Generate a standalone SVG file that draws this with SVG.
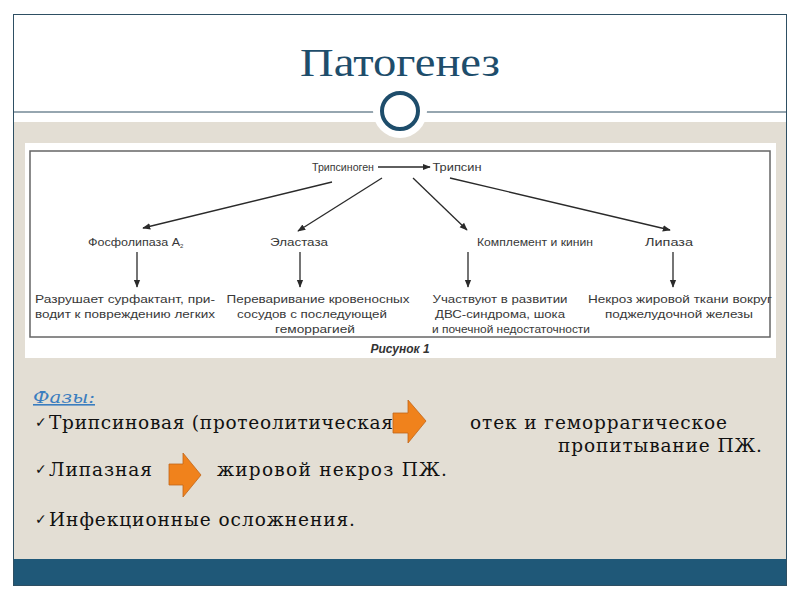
<svg xmlns="http://www.w3.org/2000/svg" width="800" height="600" viewBox="0 0 800 600">
<defs>
<style>
.fig{font-family:"Liberation Sans",Arial,sans-serif;font-size:11.5px;fill:#383838;text-anchor:middle}
.lab{font-family:"Liberation Sans",Arial,sans-serif;font-size:11px;fill:#383838;text-anchor:middle}
.ln{stroke:#2a2a2a;stroke-width:1.3;fill:none}
.bt{font-family:"DejaVu Serif","Liberation Serif",serif;font-size:18.5px;fill:#111}
.ck{font-family:"DejaVu Sans",sans-serif;font-size:14px;font-weight:bold;fill:#111}
.orange{fill:#f0821c;stroke:#c0661a;stroke-width:0.8}
</style>
<marker id="ah" viewBox="0 0 10 10" refX="9" refY="5" markerWidth="8" markerHeight="8" markerUnits="userSpaceOnUse" orient="auto">
<path d="M0,1 L10,5 L0,9 Z" fill="#2a2a2a"/>
</marker>
</defs>
<rect x="0" y="0" width="800" height="600" fill="#ffffff"/>
<rect x="13" y="122" width="774" height="437" fill="#e3ded4"/>
<rect x="13" y="559" width="774" height="27" fill="#1f5878"/>
<rect x="13.5" y="14.5" width="773" height="571" fill="none" stroke="#2e4f63" stroke-width="1"/>
<line x1="13" y1="112" x2="787" y2="112" stroke="#2e4f63" stroke-width="1.2"/>
<circle cx="400" cy="111" r="27" fill="#ffffff"/>
<circle cx="400" cy="111" r="18" fill="#ffffff" stroke="#1e4d6b" stroke-width="4"/>
<text x="400" y="76" font-family="'Liberation Serif','DejaVu Serif',serif" font-size="40" fill="#1e4d6b" text-anchor="middle" textLength="200" lengthAdjust="spacingAndGlyphs">Патогенез</text>

<g id="figure">
<rect x="25" y="143" width="751" height="215" fill="#ffffff"/>
<rect x="30" y="151" width="740" height="186" fill="none" stroke="#666" stroke-width="1.5"/>
<text x="400" y="353" font-family="'Liberation Sans',Arial,sans-serif" font-size="12" font-weight="bold" font-style="italic" fill="#333" text-anchor="middle">Рисунок 1</text>
</g>

<g id="connectors">
<line class="ln" x1="378" y1="167" x2="430" y2="167" marker-end="url(#ah)"/>
<line class="ln" x1="332" y1="182" x2="143" y2="228" marker-end="url(#ah)"/>
<line class="ln" x1="382" y1="178" x2="298" y2="231" marker-end="url(#ah)"/>
<line class="ln" x1="413" y1="178" x2="467" y2="230" marker-end="url(#ah)"/>
<line class="ln" x1="450" y1="178" x2="670" y2="230" marker-end="url(#ah)"/>
<line class="ln" x1="137" y1="252" x2="137" y2="287" marker-end="url(#ah)"/>
<line class="ln" x1="300" y1="252" x2="300" y2="287" marker-end="url(#ah)"/>
<line class="ln" x1="468" y1="252" x2="468" y2="287" marker-end="url(#ah)"/>
<line class="ln" x1="673" y1="252" x2="673" y2="287" marker-end="url(#ah)"/>
</g>

<g id="n-trypsinogen"><text class="lab" x="343" y="171" textLength="62" lengthAdjust="spacingAndGlyphs">Трипсиноген</text></g>
<g id="n-trypsin"><text class="lab" x="457" y="171" textLength="49" lengthAdjust="spacingAndGlyphs">Трипсин</text></g>
<g id="n-phospholipase"><text class="lab" x="88" y="246" style="text-anchor:start"><tspan textLength="92" lengthAdjust="spacingAndGlyphs">Фосфолипаза А</tspan><tspan font-size="6" dy="2">2</tspan></text></g>
<g id="n-elastase"><text class="lab" x="299" y="246" textLength="58" lengthAdjust="spacingAndGlyphs">Эластаза</text></g>
<g id="n-complement"><text class="lab" x="535" y="246" textLength="116" lengthAdjust="spacingAndGlyphs">Комплемент и кинин</text></g>
<g id="n-lipase"><text class="lab" x="669" y="246" textLength="48" lengthAdjust="spacingAndGlyphs">Липаза</text></g>

<g id="r-phospholipase">
<text class="fig" x="125" y="303" textLength="180" lengthAdjust="spacingAndGlyphs">Разрушает сурфактант, при-</text>
<text class="fig" x="125" y="318" textLength="180" lengthAdjust="spacingAndGlyphs">водит к повреждению легких</text>
</g>
<g id="r-elastase">
<text class="fig" x="318" y="303" textLength="183" lengthAdjust="spacingAndGlyphs">Переваривание кровеносных</text>
<text class="fig" x="312" y="318" textLength="150" lengthAdjust="spacingAndGlyphs">сосудов с последующей</text>
<text class="fig" x="315" y="333" textLength="80" lengthAdjust="spacingAndGlyphs">геморрагией</text>
</g>
<g id="r-complement">
<text class="fig" x="500" y="303" textLength="135" lengthAdjust="spacingAndGlyphs">Участвуют в развитии</text>
<text class="fig" x="500" y="318" textLength="130" lengthAdjust="spacingAndGlyphs">ДВС-синдрома, шока</text>
<text class="fig" x="511" y="333" textLength="158" lengthAdjust="spacingAndGlyphs">и почечной недостаточности</text>
</g>
<g id="r-lipase">
<text class="fig" x="680" y="303" textLength="184" lengthAdjust="spacingAndGlyphs">Некроз жировой ткани вокруг</text>
<text class="fig" x="679" y="318" textLength="148" lengthAdjust="spacingAndGlyphs">поджелудочной железы</text>
</g>

<g id="phases">
<text x="33" y="403" font-family="'DejaVu Serif','Liberation Serif',serif" font-size="16" font-style="italic" fill="#3a7dbf" text-decoration="underline" textLength="62" lengthAdjust="spacingAndGlyphs">Фазы:</text>
<text class="ck" x="35" y="427">✓</text>
<text class="bt" x="49" y="429" textLength="344" lengthAdjust="spacing">Трипсиновая (протеолитическая</text>
<text class="bt" x="470" y="429" textLength="257" lengthAdjust="spacing">отек и геморрагическое</text>
<text class="bt" x="558" y="452" textLength="204" lengthAdjust="spacing">пропитывание ПЖ.</text>
<text class="ck" x="35" y="474">✓</text>
<text class="bt" x="49" y="476" textLength="103" lengthAdjust="spacing">Липазная</text>
<text class="bt" x="217" y="476" textLength="230" lengthAdjust="spacing">жировой некроз ПЖ.</text>
<text class="ck" x="35" y="524">✓</text>
<text class="bt" x="49" y="526" textLength="306" lengthAdjust="spacing">Инфекционные осложнения.</text>
</g>
<g id="arrow1"><path class="orange" d="M393,413 L408,413 L408,400 L426,421 L408,443 L408,433 L393,433 Z"/></g>
<g id="arrow2"><path class="orange" d="M169,464 L183,464 L183,453 L201,475 L183,497 L183,485 L169,485 Z"/></g>
</svg>
